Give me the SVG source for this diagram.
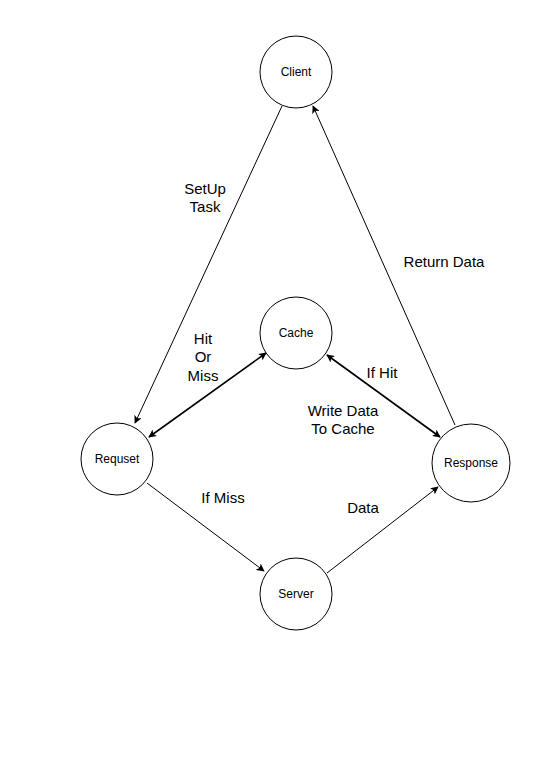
<svg xmlns="http://www.w3.org/2000/svg" width="559" height="783" viewBox="0 0 559 783">
<style>
.node circle{fill:#fff;stroke:#000;stroke-width:1}
.node text{font-family:"Liberation Sans",Arial,sans-serif;font-size:12px;text-anchor:middle;dominant-baseline:central}
.lbl{font-family:"Liberation Sans",Arial,sans-serif;font-size:15px;text-anchor:middle;fill:#000}
.edge{stroke:#000;fill:none}
</style>
<defs>
<marker id="ah" viewBox="0 0 10 10" refX="9" refY="5" markerWidth="8" markerHeight="8" markerUnits="userSpaceOnUse" orient="auto-start-reverse">
<path d="M0,0 L10,5 L0,10 L2.5,5 Z" fill="#000"/>
</marker>
</defs>
<rect width="559" height="783" fill="#fff"/>
<g id="connectors">
<line class="edge" x1="282" y1="106" x2="135" y2="423" marker-end="url(#ah)"/>
<line class="edge" x1="455" y1="425" x2="313" y2="106" marker-end="url(#ah)"/>
<line class="edge" stroke-width="1.6" x1="149" y1="437" x2="266" y2="353" marker-start="url(#ah)" marker-end="url(#ah)"/>
<line class="edge" stroke-width="1.6" x1="327" y1="355" x2="440" y2="437" marker-start="url(#ah)" marker-end="url(#ah)"/>
<line class="edge" x1="147" y1="483" x2="264" y2="571" marker-end="url(#ah)"/>
<line class="edge" x1="327" y1="573" x2="438" y2="487" marker-end="url(#ah)"/>
<text class="lbl" x="205" y="194">SetUp</text>
<text class="lbl" x="205" y="212">Task</text>
<text class="lbl" x="203" y="344">Hit</text>
<text class="lbl" x="203" y="362">Or</text>
<text class="lbl" x="203" y="381">Miss</text>
<text class="lbl" x="382" y="378">If Hit</text>
<text class="lbl" x="343" y="416">Write Data</text>
<text class="lbl" x="343" y="434">To Cache</text>
<text class="lbl" x="444" y="267">Return Data</text>
<text class="lbl" x="223" y="503">If Miss</text>
<text class="lbl" x="363" y="513">Data</text>
</g>
<g id="client" class="node"><circle cx="296" cy="72" r="36"/><text x="296" y="72">Client</text></g>
<g id="cache" class="node"><circle cx="296" cy="333" r="36"/><text x="296" y="333">Cache</text></g>
<g id="requset" class="node"><circle cx="117" cy="459" r="36"/><text x="117" y="459">Requset</text></g>
<g id="response" class="node"><circle cx="471" cy="463" r="39"/><text x="471" y="463">Response</text></g>
<g id="server" class="node"><circle cx="296" cy="594" r="36"/><text x="296" y="594">Server</text></g>
</svg>
